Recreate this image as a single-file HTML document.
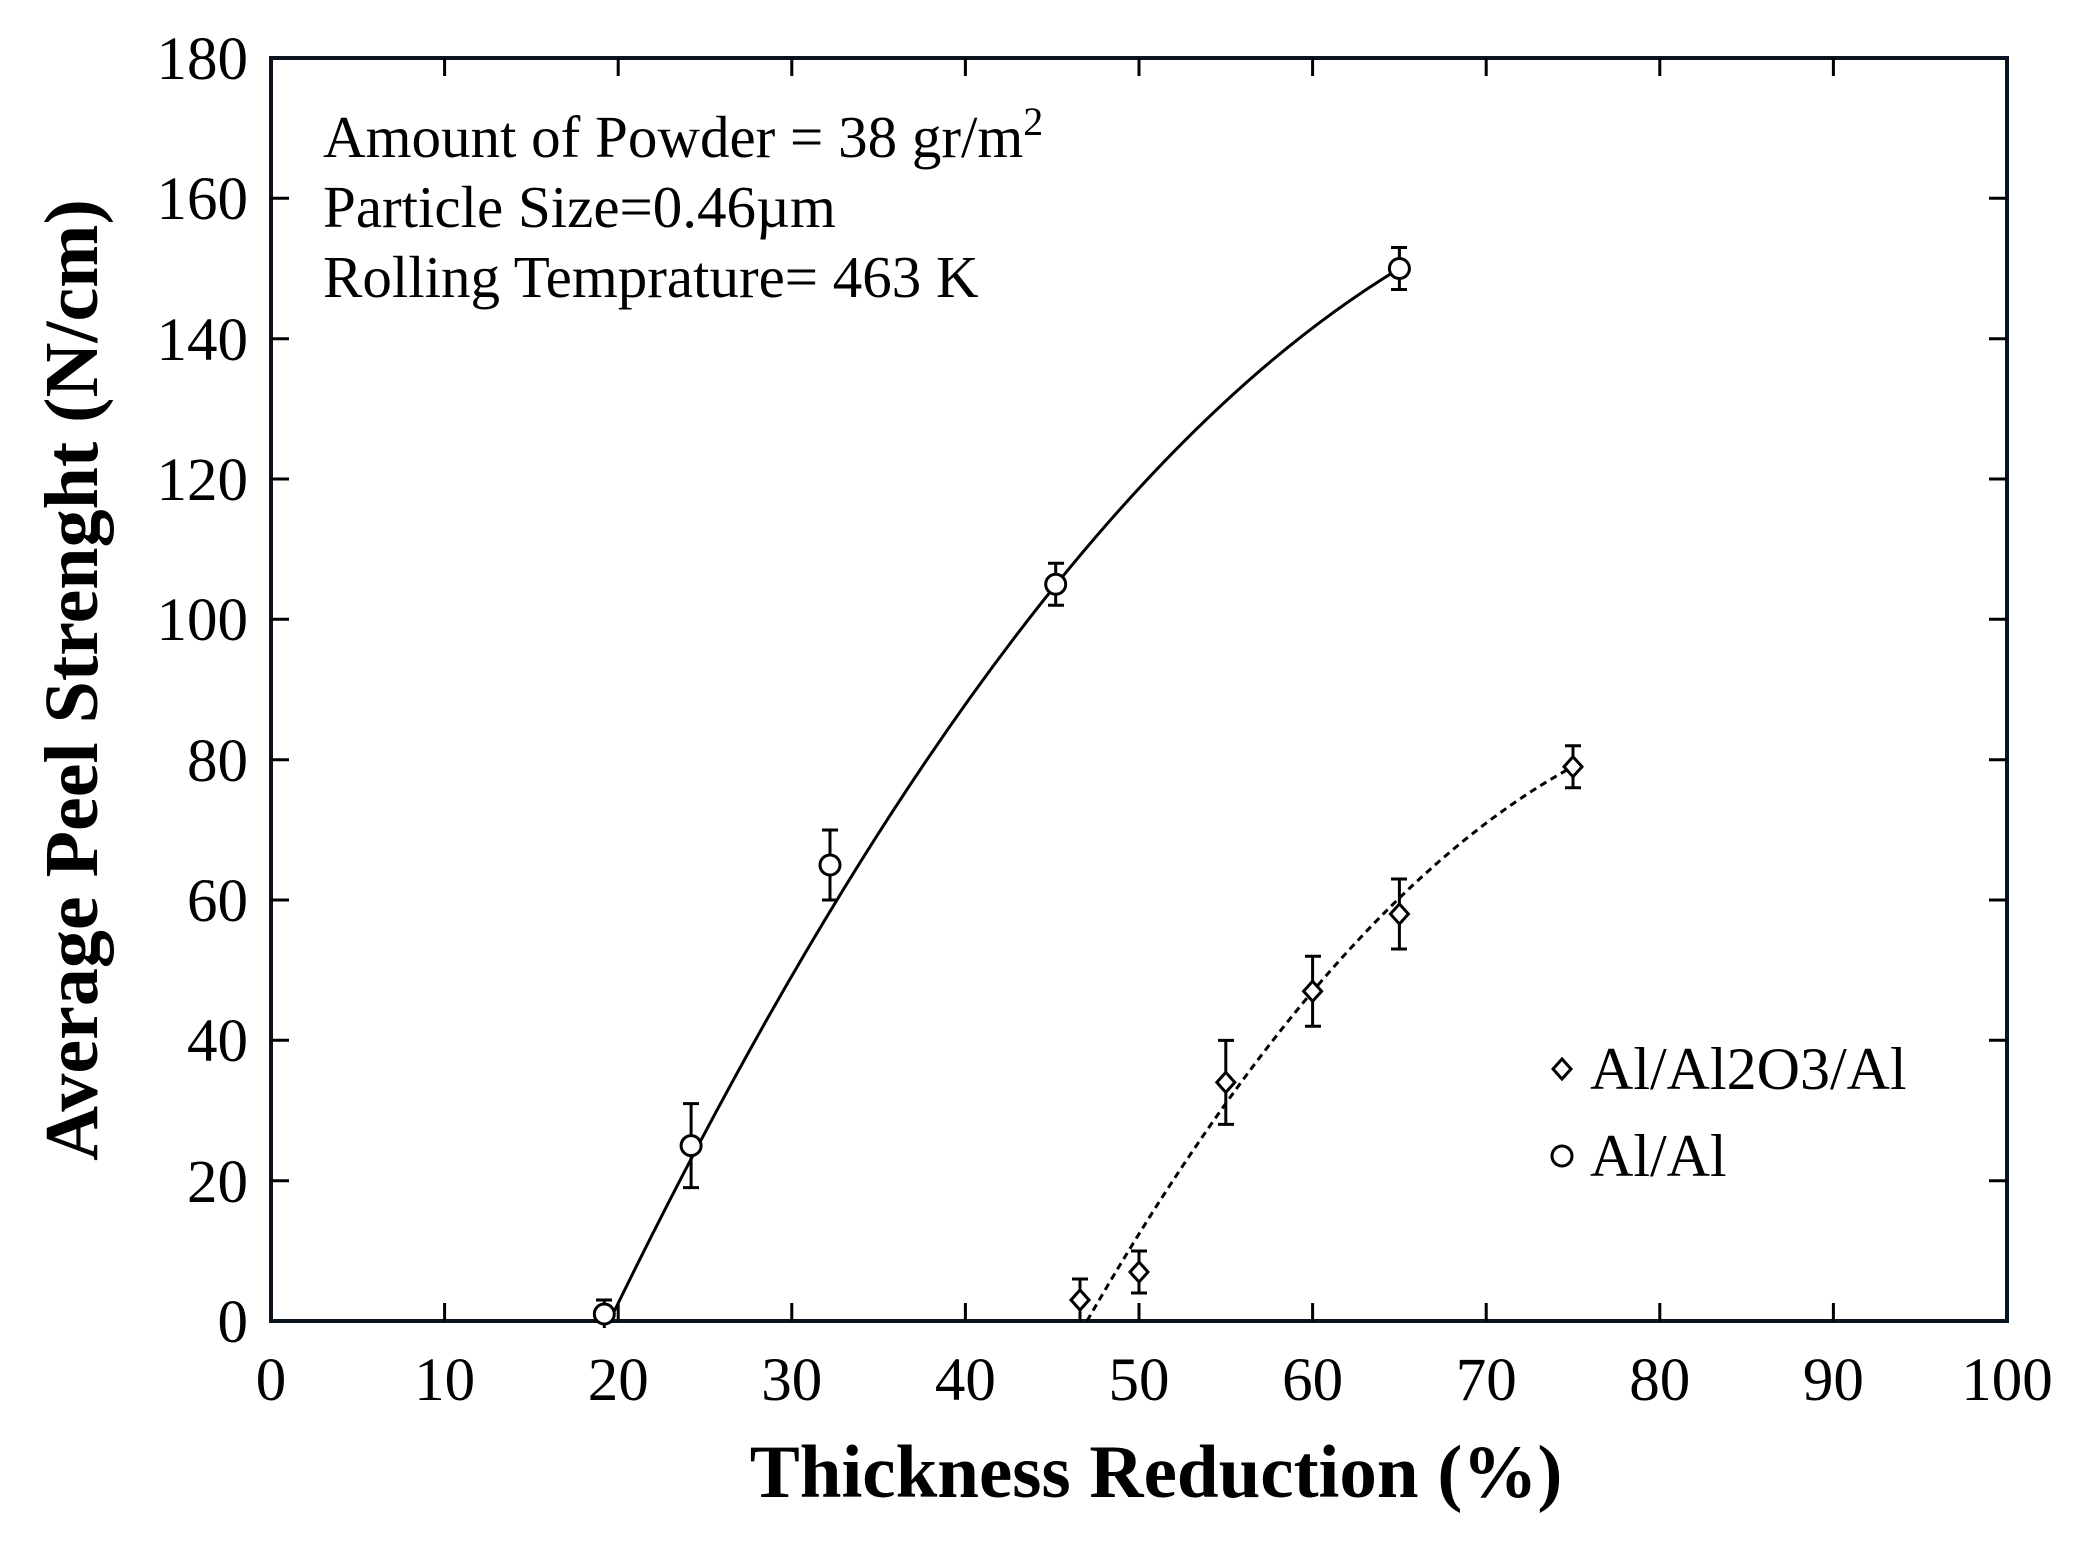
<!DOCTYPE html>
<html><head><meta charset="utf-8"><style>
html,body{margin:0;padding:0;background:#fff;}
svg{display:block}
text{font-family:"Liberation Serif",serif;fill:#000}
</style></head><body>
<svg width="2077" height="1542" viewBox="0 0 2077 1542" xmlns="http://www.w3.org/2000/svg">
<rect width="2077" height="1542" fill="#fff"/>
<rect x="271" y="58" width="1736" height="1263" fill="none" stroke="#0a1420" stroke-width="4"/>
<g stroke="#000" stroke-width="3">
<path d="M444.6 1321v-18M618.2 1321v-18M791.8 1321v-18M965.4 1321v-18M1139 1321v-18M1312.6 1321v-18M1486.2 1321v-18M1659.8 1321v-18M1833.4 1321v-18
M444.6 58v18M618.2 58v18M791.8 58v18M965.4 58v18M1139 58v18M1312.6 58v18M1486.2 58v18M1659.8 58v18M1833.4 58v18"/>
<path d="M271 1180.7h18M271 1040.3h18M271 900h18M271 759.7h18M271 619.3h18M271 479h18M271 338.7h18M271 198.3h18
M2007 1180.7h-18M2007 1040.3h-18M2007 900h-18M2007 759.7h-18M2007 619.3h-18M2007 479h-18M2007 338.7h-18M2007 198.3h-18"/>
</g>
<g font-size="61" text-anchor="middle">
<text x="271" y="1400">0</text><text x="444.6" y="1400">10</text><text x="618.2" y="1400">20</text><text x="791.8" y="1400">30</text><text x="965.4" y="1400">40</text><text x="1139" y="1400">50</text><text x="1312.6" y="1400">60</text><text x="1486.2" y="1400">70</text><text x="1659.8" y="1400">80</text><text x="1833.4" y="1400">90</text><text x="2007" y="1400">100</text>
</g>
<g font-size="61" text-anchor="end">
<text x="248" y="1342">0</text><text x="248" y="1202">20</text><text x="248" y="1061">40</text><text x="248" y="921">60</text><text x="248" y="781">80</text><text x="248" y="640">100</text><text x="248" y="500">120</text><text x="248" y="360">140</text><text x="248" y="219">160</text><text x="248" y="79">180</text>
</g>
<text x="1156" y="1497" font-size="75" font-weight="bold" text-anchor="middle">Thickness Reduction (%)</text>
<text transform="translate(97,680) rotate(-90)" font-size="76" font-weight="bold" text-anchor="middle">Average Peel Strenght (N/cm)</text>
<g font-size="59">
<text x="323" y="157">Amount of Powder =  38 gr/m<tspan font-size="40" dy="-22">2</tspan></text>
<text x="323" y="227">Particle Size=0.46µm</text>
<text x="323" y="297">Rolling Temprature= 463 K</text>
</g>
<path d="M609.5 1321 Q1004.5 507 1399.4 268.5" fill="none" stroke="#000" stroke-width="3"/>
<path d="M1087 1321 Q1330 898.6 1573 766.7" fill="none" stroke="#000" stroke-width="3" stroke-dasharray="7,5"/>
<g stroke="#000" stroke-width="3" fill="none">
<path d="M604.3 1300v28M596 1300h16"/>
<path d="M691.1 1103.6v84M683 1103.6h16M683 1187.6h16"/>
<path d="M830 830v70M822 830h16M822 900h16"/>
<path d="M1055.7 563.2v42M1048 563.2h16M1048 605.2h16"/>
<path d="M1399.4 247.5v42M1391 247.5h16M1391 289.5h16"/>
<path d="M1080 1279v42M1072 1279h16"/>
<path d="M1139 1251v42M1131 1251h16M1131 1293h16"/>
<path d="M1225.8 1040.4v84M1218 1040.4h16M1218 1124.4h16"/>
<path d="M1312.6 956.2v70M1305 956.2h16M1305 1026.2h16"/>
<path d="M1399.4 879v70M1391 879h16M1391 949h16"/>
<path d="M1573 745.7v42M1565 745.7h16M1565 787.7h16"/>
</g>
<g stroke="#000" stroke-width="3" fill="#fff">
<circle cx="604.3" cy="1314" r="10"/>
<circle cx="691.1" cy="1145.6" r="10"/>
<circle cx="830" cy="865" r="10"/>
<circle cx="1055.7" cy="584.2" r="10"/>
<circle cx="1399.4" cy="268.5" r="10"/>
<path d="M1080 1290l9 10-9 10-9-10z"/>
<path d="M1139 1262l9 10-9 10-9-10z"/>
<path d="M1225.8 1072.4l9 10-9 10-9-10z"/>
<path d="M1312.6 981.2l9 10-9 10-9-10z"/>
<path d="M1399.4 904l9 10-9 10-9-10z"/>
<path d="M1573 756.7l9 10-9 10-9-10z"/>
<path d="M1562 1059l9 10-9 10-9-10z"/>
<circle cx="1562" cy="1156" r="10"/>
</g>
<g font-size="60">
<text x="1590" y="1089">Al/Al2O3/Al</text>
<text x="1590" y="1176">Al/Al</text>
</g>
</svg>
</body></html>
